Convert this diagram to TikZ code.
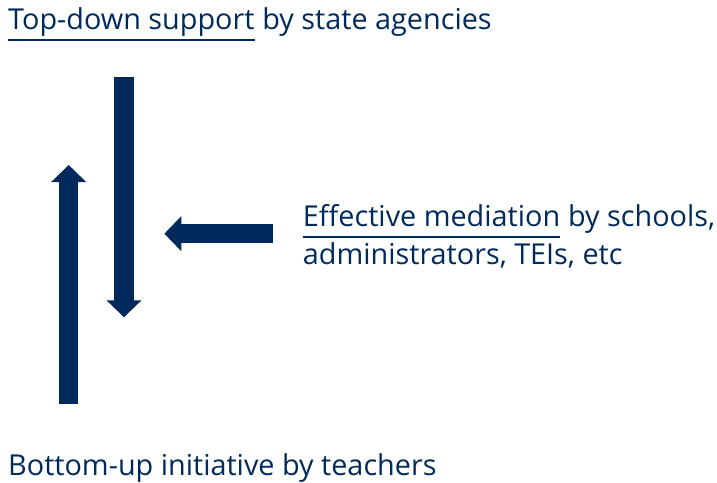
\documentclass[tikz,border=0pt]{standalone}
\usepackage{fontspec}
\setmainfont{Open Sans}
\usetikzlibrary{arrows.meta}
\definecolor{navy}{RGB}{0,42,92}

\begin{document}
\begin{tikzpicture}[x=1pt,y=-1pt,
    label/.style={anchor=base west,inner sep=0pt,text=navy,font=\fontsize{28.8}{38}\selectfont},
    blockarrow/.style={navy,line width=19.3pt,-{Triangle[width=34pt,length=17pt]}}]
    \useasboundingbox (0,0) rectangle (717,482);

    \node[label] (topdown) at (8,29.5) {Top-down support};
    \node[label] (topby) at (topdown.base east) {\ by state agencies};
    \draw[navy,line width=2pt] ([yshift=-10pt]topdown.base west) -- ([yshift=-10pt]topdown.base east);

    \node[label] (mediation) at (302.7,226) {Effective mediation};
    \node[label] (mediationby) at (mediation.base east) {\ by schools,};
    \node[label] (mediators) at (302.7,264) {administrators, TEIs, etc};
    \draw[navy,line width=2pt] ([yshift=-11pt]mediation.base west) -- ([yshift=-11pt]mediation.base east);

    \node[label] (bottomup) at (8,475.7) {Bottom-up initiative by teachers};

    \draw[blockarrow] (124,77) -- (124,317.3);
    \draw[blockarrow] (68.7,404) -- (68.7,165);
    \draw[blockarrow] (272.7,233.7) -- (164.3,233.7);
\end{tikzpicture}
\end{document}
